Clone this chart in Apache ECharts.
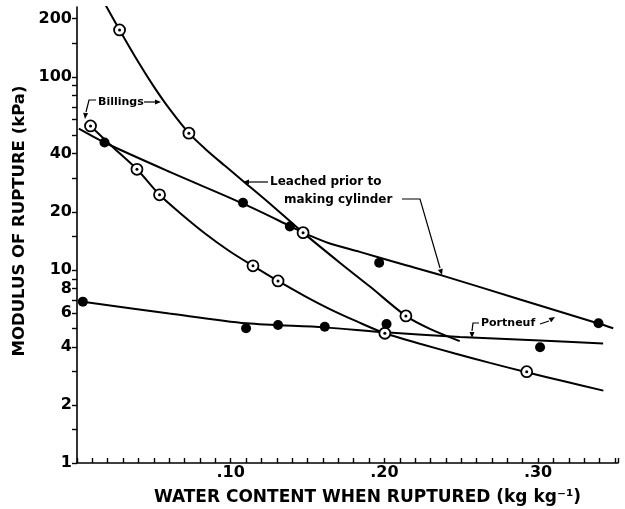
<!DOCTYPE html>
<html>
<head>
<meta charset="utf-8">
<script src="https://cdn.jsdelivr.net/npm/echarts@6/dist/echarts.min.js"></script>
<style>
  html, body { margin: 0; padding: 0; background: #fff; }
  #chart { width: 625px; height: 509px; }
</style>
</head>
<body>
<div id="chart"></div>
<script>
// water content (kg/kg) vs modulus of rupture (kPa)

// Billings, leached prior to making cylinder (open circles, steep curve)
const billingsLeachedPts = [[0.0277, 175], [0.0728, 51.1], [0.1471, 15.6], [0.214, 5.78]];
const billingsLeachedCurve = [
  [0.018, 240], [0.0277, 175], [0.04, 119], [0.05, 89], [0.0603, 68], [0.0728, 51.1], [0.0831, 42.6],
  [0.0961, 34.7], [0.108, 28.9], [0.1254, 22.1], [0.1471, 15.6], [0.171, 10.9], [0.1906, 8.2],
  [0.214, 5.78], [0.2296, 4.95], [0.249, 4.28]
];

// Billings (open circles, lower curve)
const billingsPts = [[0.0088, 55.7], [0.039, 33.2], [0.0537, 24.5], [0.1145, 10.5], [0.1308, 8.77], [0.2003, 4.7], [0.2926, 2.97]];
const billingsCurve = [
  [0.0088, 55.7], [0.0238, 42.9], [0.039, 33.2], [0.0537, 24.5], [0.0668, 19.8], [0.0831, 15.5],
  [0.0993, 12.5], [0.1145, 10.5], [0.1308, 8.77], [0.1482, 7.32], [0.1645, 6.27], [0.1821, 5.41],
  [0.2003, 4.7], [0.2231, 4.15], [0.2459, 3.69], [0.2687, 3.3], [0.2926, 2.95], [0.3176, 2.64], [0.3425, 2.37]
];

// Portneuf, leached (filled circles, upper line)
const portneufLeachedPts = [[0.0179, 45.7], [0.108, 22.3], [0.1385, 16.8], [0.1966, 10.9], [0.3393, 5.29]];
const portneufLeachedCurve = [
  [0.0012, 53.9], [0.0179, 45.7], [0.0603, 32.2], [0.1078, 22.1], [0.1384, 16.9], [0.1471, 15.6],
  [0.1645, 13.7], [0.184, 12.4], [0.2101, 10.8], [0.2373, 9.37], [0.2883, 7.03], [0.3393, 5.28], [0.3489, 4.99]
];

// Portneuf (filled circles, flat line)
const portneufPts = [[0.0038, 6.85], [0.11, 4.99], [0.1308, 5.19], [0.1612, 5.08], [0.2014, 5.25], [0.3013, 3.98]];
const portneufCurve = [
  [0.0038, 6.85], [0.06, 5.95], [0.1102, 5.29], [0.1612, 5.04], [0.2003, 4.75], [0.2492, 4.5], [0.3013, 4.31], [0.3423, 4.16]
];

const yLabelValues = [1, 2, 4, 6, 8, 10, 20, 40, 100, 200];
const yTickValues = [1, 1.5, 2, 3, 4, 5, 6, 7, 8, 9, 10, 15, 20, 30, 40, 50, 60, 70, 80, 90, 100, 150, 200];

const FONT = "DejaVu Sans";
const ink = "#000";

const curve = (data) => ({
  type: "line",
  data,
  smooth: 0.3,
  showSymbol: false,
  lineStyle: { color: ink, width: 2 },
  z: 2,
  silent: true
});
const openMark = (data) => [
  { type: "scatter", data, symbol: "circle", symbolSize: 11, itemStyle: { color: "#fff", borderColor: ink, borderWidth: 1.8, opacity: 1 }, z: 4 },
  { type: "scatter", data, symbol: "circle", symbolSize: 3, itemStyle: { color: ink, opacity: 1 }, z: 5 }
];
const filledMark = (data) => ({ type: "scatter", data, symbol: "circle", symbolSize: 10, itemStyle: { color: ink, opacity: 1 }, z: 4 });

const annoText = (text, x, y, size) => ({
  type: "text", x, y,
  style: { text, font: `bold ${size}px ${FONT}`, fill: ink, verticalAlign: "middle" }
});
const polyline = (points) => ({
  type: "polyline", shape: { points }, style: { stroke: ink, lineWidth: 1.2, fill: null }
});
const arrowHead = (tip, from, len = 6, half = 2.5) => {
  const dx = tip[0] - from[0], dy = tip[1] - from[1];
  const d = Math.hypot(dx, dy), ux = dx / d, uy = dy / d;
  const bx = tip[0] - ux * len, by = tip[1] - uy * len;
  return {
    type: "polygon",
    shape: { points: [tip, [bx - uy * half, by + ux * half], [bx + uy * half, by - ux * half]] },
    style: { fill: ink }
  };
};

const option = {
  animation: false,
  backgroundColor: "#fff",
  grid: { left: 77, right: 7, top: 7, bottom: 46, outerBoundsMode: "none", containLabel: false },
  xAxis: {
    type: "value",
    min: 0,
    max: 0.352,
    interval: 0.01,
    splitLine: { show: false },
    axisLine: { lineStyle: { color: ink, width: 1.6 } },
    axisTick: { inside: true, length: 5, lineStyle: { color: ink, width: 1.4 } },
    axisLabel: {
      color: ink,
      fontFamily: FONT,
      fontWeight: "bold",
      fontSize: 16,
      margin: 2,
      formatter: (v) => {
        const t = v * 10;
        if (v > 0 && Math.abs(t - Math.round(t)) < 1e-6) return "." + Math.round(v * 100);
        return "";
      }
    },
    name: "WATER CONTENT WHEN RUPTURED (kg kg\u207B\u00B9)",
    nameLocation: "middle",
    nameGap: 26,
    nameTextStyle: { color: ink, fontFamily: FONT, fontWeight: "bold", fontSize: 17, padding: [0, 0, 0, 40] }
  },
  yAxis: {
    type: "log",
    logBase: 10,
    min: 1,
    max: 230,
    splitLine: { show: false },
    minorSplitLine: { show: false },
    axisLine: { lineStyle: { color: ink, width: 1.6 } },
    axisTick: { length: 5, customValues: yTickValues, lineStyle: { color: ink, width: 1.4 } },
    axisLabel: {
      customValues: yLabelValues,
      color: ink,
      fontFamily: FONT,
      fontWeight: "bold",
      fontSize: 16,
      margin: 5,
      formatter: (v) => String(Math.round(v))
    }
  },
  graphic: [
    {
      type: "text", x: 20, y: 221, rotation: Math.PI / 2,
      style: { text: "MODULUS OF RUPTURE (kPa)", font: `bold 16.5px ${FONT}`, fill: ink, align: "center", verticalAlign: "middle" }
    },
    // Billings label
    annoText("Billings", 98, 102, 11),
    polyline([[144, 102], [156, 102]]),
    arrowHead([161, 102], [150, 102]),
    polyline([[96, 100], [89, 100], [86, 112]]),
    arrowHead([85, 119], [86, 110]),
    // Leached label
    annoText("Leached prior to", 270, 182, 12),
    annoText("making cylinder", 284, 200, 12),
    polyline([[268, 182], [249, 182]]),
    arrowHead([243, 182], [253, 182]),
    polyline([[402, 199], [420, 199], [440, 268]]),
    arrowHead([442, 275], [439, 265]),
    // Portneuf label
    annoText("Portneuf", 481, 323, 11),
    polyline([[479, 323], [473, 323], [472, 331]]),
    arrowHead([472, 338], [472, 330]),
    polyline([[540, 324], [549, 321]]),
    arrowHead([555, 317], [547, 322])
  ],
  series: [
    curve(billingsLeachedCurve),
    curve(billingsCurve),
    curve(portneufLeachedCurve),
    curve(portneufCurve),
    ...openMark(billingsLeachedPts),
    ...openMark(billingsPts),
    filledMark(portneufLeachedPts),
    filledMark(portneufPts)
  ]
};

const chart = echarts.init(document.getElementById("chart"));
chart.setOption(option);
</script>
</body>
</html>
